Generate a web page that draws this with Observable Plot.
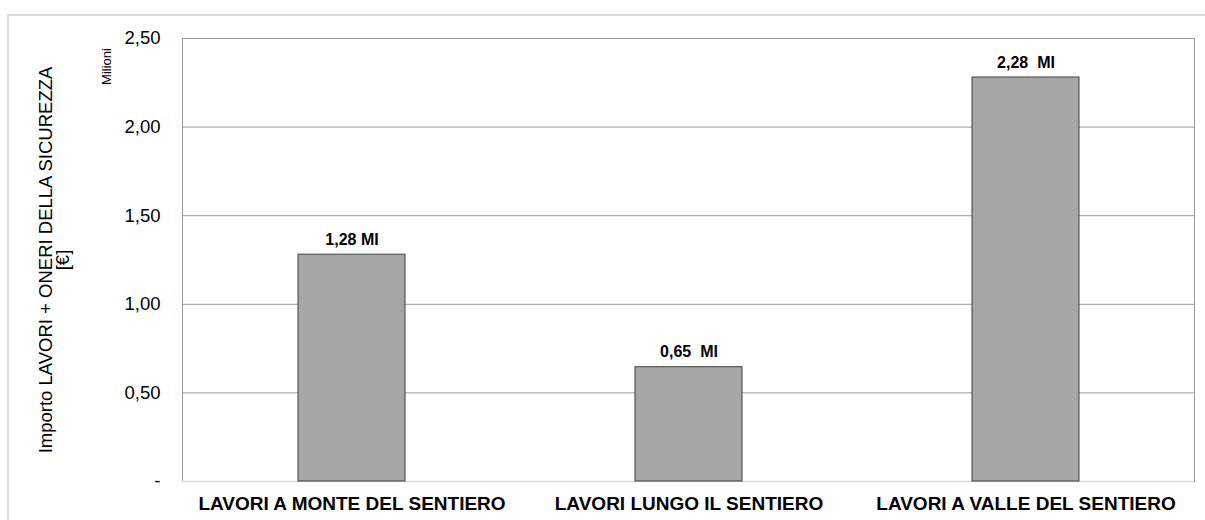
<!DOCTYPE html>
<html>
<head>
<meta charset="utf-8">
<script src="https://cdn.jsdelivr.net/npm/d3@7"></script>
<script src="https://cdn.jsdelivr.net/npm/@observablehq/plot@0.6"></script>
<style>
  html, body { margin: 0; padding: 0; background: #fff; overflow: hidden; width: 1205px; height: 520px; }
  #frame { position: absolute; left: 7px; top: 14px; width: 1300px; height: 600px; border: 2px solid #d9d9d9; box-sizing: border-box; }
  #chart { position: absolute; left: 0; top: 0; }
  svg { font-family: Arial, "Liberation Sans", sans-serif; }
</style>
</head>
<body>
<div id="frame"></div>
<div id="chart"></div>
<script>
const categories = ["LAVORI A MONTE DEL SENTIERO", "LAVORI LUNGO IL SENTIERO", "LAVORI A VALLE DEL SENTIERO"];
const values = [1.28, 0.645, 2.28];
const valueLabels = ["1,28 MI", "0,65  MI", "2,28  MI"];
const yTicks = [0, 0.5, 1.0, 1.5, 2.0, 2.5];
const yTitle = "Importo LAVORI + ONERI DELLA SICUREZZA";
const yUnit = "[€]";
const scaleNote = "Milioni";

const data = categories.map((c, i) => ({cat: c, value: values[i], label: valueLabels[i]}));
const fmt = d => d === 0 ? "-" : d.toFixed(2).replace(".", ",");

const chart = Plot.plot({
  width: 1205,
  height: 520,
  marginLeft: 182,
  marginRight: 11,
  marginTop: 38,
  marginBottom: 39,
  style: {fontFamily: "Arial, 'Liberation Sans', sans-serif", color: "#000", background: "transparent"},
  x: {domain: categories, padding: 0, label: null},
  y: {domain: [0, 2.5], label: null},
  marks: [
    Plot.ruleY(yTicks.filter(d => d > 0), {stroke: "#9a9a9a", strokeWidth: 1}),
    Plot.frame({stroke: "#9a9a9a", strokeWidth: 1}),
    Plot.ruleY([0], {stroke: "#d9d9d9", strokeWidth: 1.5}),
    Plot.barY(data, {x: "cat", y: "value", insetLeft: 115, insetRight: 115, fill: "#a6a6a6", stroke: "#404040", strokeWidth: 1}),
    Plot.text(data, {x: "cat", y: "value", text: "label", dy: -15, fontSize: 16, fontWeight: "bold", fill: "#000"}),
    Plot.axisY({ticks: yTicks, tickFormat: fmt, tickSize: 0, tickPadding: 22, fontSize: 18.5, label: null}),
    Plot.axisX({tickSize: 0, tickPadding: 15, fontSize: 19, fontWeight: "bold", label: null, style: {letterSpacing: "-0.2px"}}),
    Plot.text([yTitle], {frameAnchor: "left", dx: -136, rotate: -90, textAnchor: "middle", fontSize: 18.5, fill: "#000"}),
    Plot.text([yUnit], {frameAnchor: "left", dx: -119, rotate: -90, textAnchor: "middle", fontSize: 18.5, fill: "#000"}),
    Plot.text([scaleNote], {frameAnchor: "top-left", dx: -81, dy: 28, rotate: -90, textAnchor: "middle", fontSize: 13, fill: "#000"})
  ]
});
document.getElementById("chart").appendChild(chart);
</script>
</body>
</html>
